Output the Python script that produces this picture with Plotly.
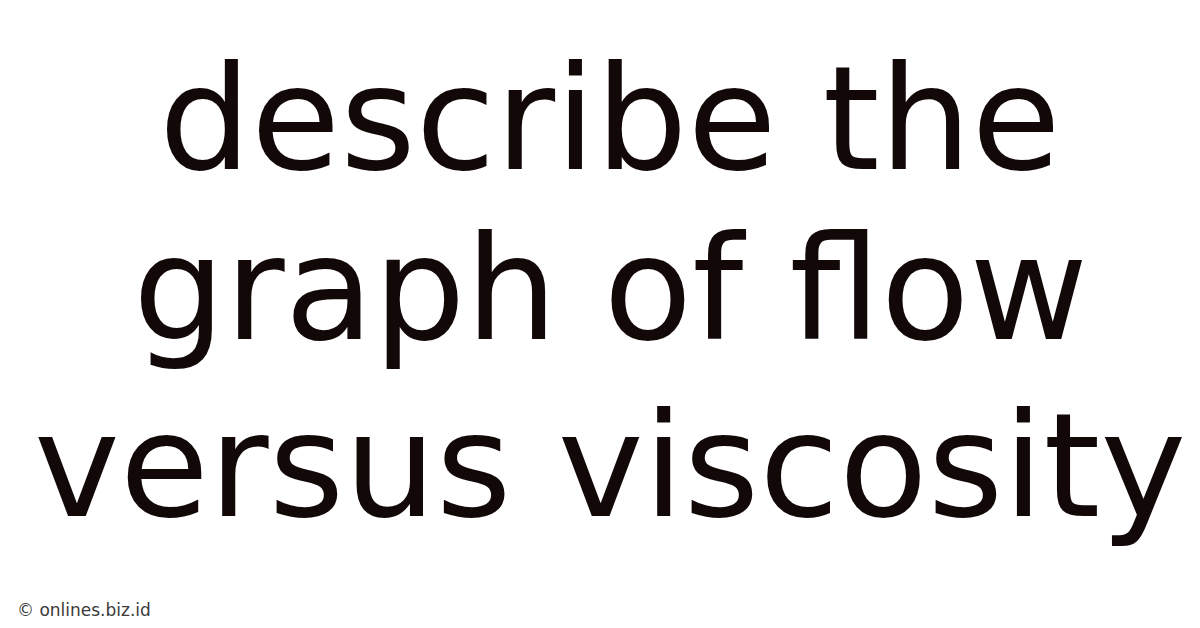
import plotly.graph_objects as go

# text content
title_lines = ["describe the", "graph of flow", "versus viscosity"]
line_y = [0.824, 0.553, 0.271]  # paper coords of each line centre
watermark = "© onlines.biz.id"

fig = go.Figure()

for txt, y in zip(title_lines, line_y):
    fig.add_annotation(
        text=txt,
        x=0.502, y=y, xref="paper", yref="paper",
        xanchor="center", yanchor="middle",
        showarrow=False,
        font=dict(family="DejaVu Sans", size=145, color="#120808"),
    )

fig.add_annotation(
    text=watermark,
    x=0.006, y=0.041, xref="paper", yref="paper",
    xanchor="left", yanchor="middle",
    showarrow=False,
    font=dict(family="DejaVu Sans", size=17, color="#3a3a3a"),
)

fig.update_xaxes(visible=False)
fig.update_yaxes(visible=False)
fig.update_layout(
    width=1200, height=628,
    margin=dict(l=0, r=0, t=0, b=0),
    paper_bgcolor="white",
    plot_bgcolor="white",
    showlegend=False,
)

fig.write_html("out.html")
